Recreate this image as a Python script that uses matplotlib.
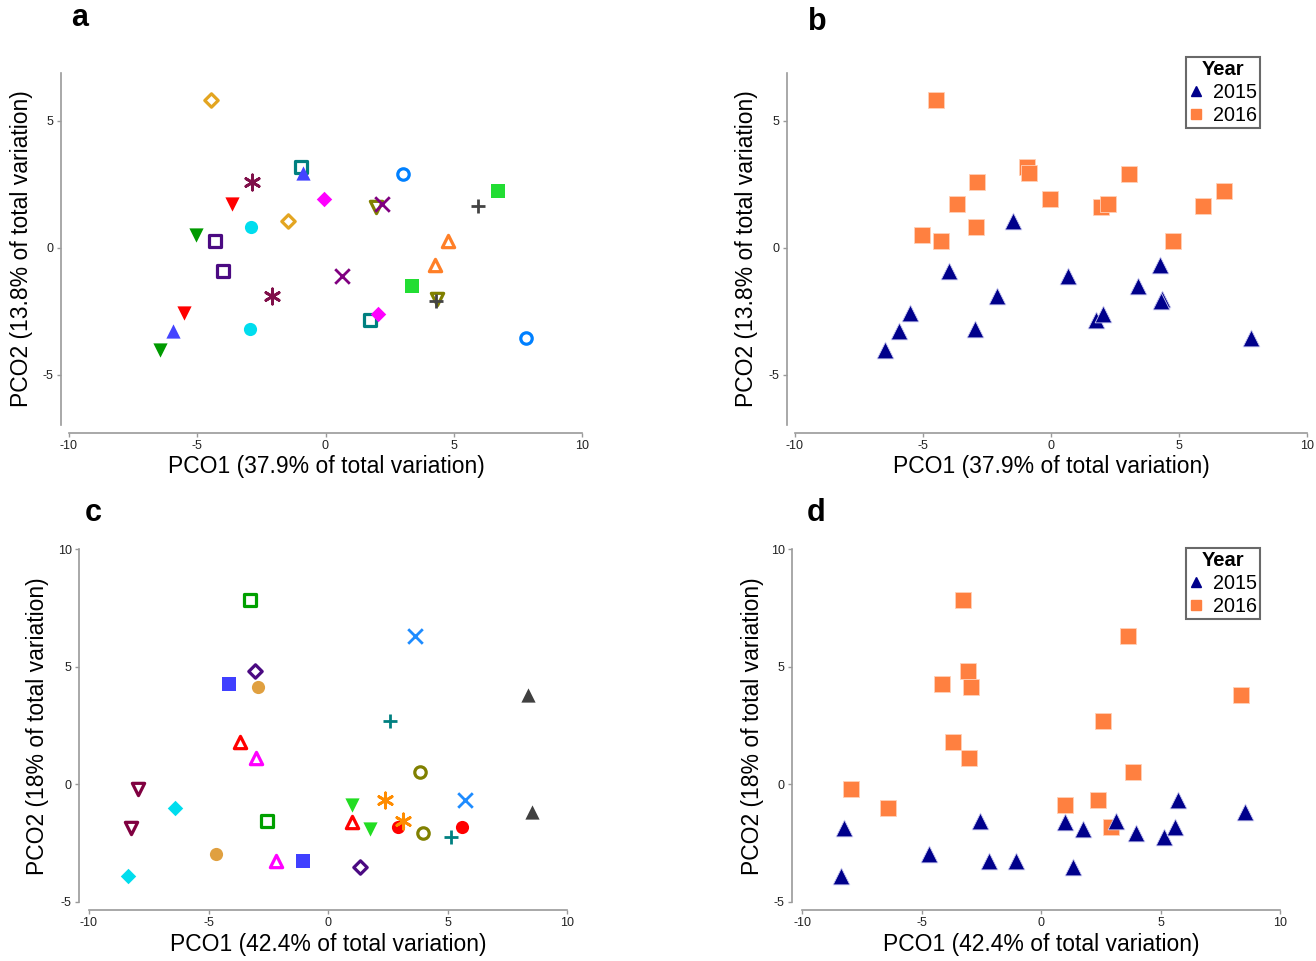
import matplotlib
matplotlib.use("Agg")
import matplotlib.pyplot as plt
from matplotlib.lines import Line2D

plt.rcParams['font.family'] = ['Liberation Sans', 'DejaVu Sans']
plt.rcParams['axes.unicode_minus'] = False

# ---------------- data ----------------
# Panels a/b (PCO1 37.9%, PCO2 13.8%) : 15 sites, 2016 and 2015 positions
a_x_2016 = [-4.48, -0.94, -0.86, -2.88, -3.66, -2.92, -5.03, -4.29, -0.04, 1.95, 2.22, 3.04, 5.93, 6.74, 4.76]
a_y_2016 = [5.81, 3.20, 2.96, 2.61, 1.74, 0.83, 0.51, 0.28, 1.94, 1.62, 1.74, 2.92, 1.66, 2.25, 0.28]
a_x_2015 = [-1.48, 1.75, -5.93, -2.10, -5.50, -2.96, -6.47, -3.98, 2.03, 4.33, 0.66, 7.80, 4.29, 3.39, 4.25]
a_y_2015 = [1.07, -2.85, -3.28, -1.90, -2.57, -3.20, -4.03, -0.91, -2.60, -2.00, -1.10, -3.56, -2.10, -1.50, -0.67]

# Panels c/d (PCO1 42.4%, PCO2 18%) : 15 sites, 2016 and 2015 positions
c_x_2016 = [-3.26, 3.64, -3.05, -4.14, -2.93, 8.37, 2.59, -3.68, -3.01, 3.85, -7.95, -6.40, 1.00, 2.38, 2.93]
c_y_2016 = [7.84, 6.31, 4.83, 4.28, 4.15, 3.81, 2.71, 1.78, 1.14, 0.51, -0.21, -1.02, -0.89, -0.68, -1.82]
c_x_2015 = [-2.55, 5.73, 1.34, -1.05, -4.69, 8.54, 5.15, 1.00, -2.18, 3.97, -8.24, -8.37, 1.76, 3.14, 5.60]
c_y_2015 = [-1.57, -0.68, -3.52, -3.26, -2.97, -1.19, -2.25, -1.61, -3.26, -2.08, -1.86, -3.90, -1.90, -1.57, -1.82]

years = ["2015", "2016"]
xlabel_ab = "PCO1 (37.9% of total variation)"
ylabel_ab = "PCO2 (13.8% of total variation)"
xlabel_cd = "PCO1 (42.4% of total variation)"
ylabel_cd = "PCO2 (18% of total variation)"
xticks = [-10, -5, 0, 5, 10]
yticks_ab = [-5, 0, 5]
yticks_cd = [-5, 0, 5, 10]

# ---------------- styles ----------------
# (marker, color, filled)
style_a = [
    ("D", "#E3A521", False), ("s", "#008080", False), ("^", "#4444FF", True),
    ((6, 2, 0), "#80104A", True), ("v", "#FF0000", True), ("o", "#00DDEE", True),
    ("v", "#009A00", True), ("s", "#4B0A82", False), ("D", "#FF00FF", True),
    ("v", "#808000", False), ("x", "#800080", True), ("o", "#0080FF", False),
    ("+", "#444444", True), ("s", "#22DD33", True), ("^", "#FF7F27", False),
]
style_c = [
    ("s", "#00A000", False), ("x", "#1E8CFF", True), ("D", "#4B0A82", False),
    ("s", "#4040FF", True), ("o", "#E0A040", True), ("^", "#404040", True),
    ("+", "#008080", True), ("^", "#FF0000", False), ("^", "#FF00FF", False),
    ("o", "#808000", False), ("v", "#800040", False), ("D", "#00DDEE", True),
    ("v", "#22DD22", True), ((6, 2, 0), "#FF8C00", True), ("o", "#FF0000", True),
]
navy = "#00008B"
orange = "#FF8040"

W, H = 1316, 961
fig = plt.figure(figsize=(W / 100, H / 100), dpi=100)


def px_axes(left, right, top, bottom):
    return fig.add_axes([left / W, 1 - bottom / H, (right - left) / W, (bottom - top) / H])


def style_axes(ax, ylim, yticks, left_off, bottom_off):
    ax.set_xlim(-10, 10)
    ax.set_ylim(*ylim)
    ax.set_xticks(xticks)
    ax.set_yticks(yticks)
    for s in ("top", "right"):
        ax.spines[s].set_visible(False)
    ax.spines["left"].set_position(("outward", left_off))
    ax.spines["bottom"].set_position(("outward", bottom_off))
    for s in ("left", "bottom"):
        ax.spines[s].set_color("#9a9a9a")
        ax.spines[s].set_linewidth(1.2)
    ax.tick_params(direction="out", length=3, width=1, color="#9a9a9a",
                   labelsize=9, labelcolor="#222222", pad=2)
    ax.patch.set_alpha(0)


def sizes(marker, filled):
    if marker == "D":
        return 62
    if marker in ("x", "+"):
        return 110
    if isinstance(marker, tuple):
        return 120
    if marker in ("^", "v"):
        return 105
    return 90


def draw_sites(ax, xs_list, ys_list, styles):
    for xs, ys in zip(xs_list, ys_list):
        for x, y, (m, c, filled) in zip(xs, ys, styles):
            s = sizes(m, filled)
            if m in ("x", "+") or isinstance(m, tuple):
                ax.scatter([x], [y], marker=m, s=s, color=c, linewidths=2.0, zorder=3)
            elif filled:
                ax.scatter([x], [y], marker=m, s=s, color=c, linewidths=0, zorder=3)
            else:
                ax.scatter([x], [y], marker=m, s=s * 0.75, facecolors="white",
                           edgecolors=c, linewidths=2.3, zorder=3)


def draw_years(ax, x15, y15, x16, y16):
    ax.scatter(x16, y16, marker="s", s=120, color=orange, edgecolors="#ffd0b8",
               linewidths=0.6, zorder=3)
    ax.scatter(x15, y15, marker="^", s=145, color=navy, edgecolors="#c8c8f0",
               linewidths=0.6, zorder=4)


def add_legend(ax, anchor):
    handles = [
        Line2D([], [], marker="^", color=navy, linestyle="none", markersize=7),
        Line2D([], [], marker="s", color=orange, linestyle="none", markersize=6.5),
    ]
    leg = ax.legend(handles, years, title="Year", loc="upper right",
                    bbox_to_anchor=anchor, bbox_transform=fig.transFigure,
                    frameon=True, fancybox=False, fontsize=14.2,
                    title_fontproperties={"weight": "bold", "size": 14.5},
                    handlelength=0.7, handletextpad=0.5, borderpad=0.15,
                    labelspacing=0.2, borderaxespad=0)
    leg.get_frame().set_edgecolor("#444444")
    leg.get_frame().set_linewidth(1.5)


# Panel a
ax_a = px_axes(69, 582, 73, 425)
style_axes(ax_a, (-6.97, 6.89), yticks_ab, 6, 6)
draw_sites(ax_a, [a_x_2016, a_x_2015], [a_y_2016, a_y_2015], style_a)

# Panel b
ax_b = px_axes(795, 1307, 73, 425)
style_axes(ax_b, (-6.97, 6.89), yticks_ab, 6, 6)
draw_years(ax_b, a_x_2015, a_y_2015, a_x_2016, a_y_2016)
add_legend(ax_b, (1260 / W, 1 - 57 / H))

# Panel c
ax_c = px_axes(89, 567, 549, 902)
style_axes(ax_c, (-5, 10), yticks_cd, 7.5, 6)
draw_sites(ax_c, [c_x_2016, c_x_2015], [c_y_2016, c_y_2015], style_c)

# Panel d
ax_d = px_axes(802, 1280, 549, 902)
style_axes(ax_d, (-5, 10), yticks_cd, 7.5, 6)
draw_years(ax_d, c_x_2015, c_y_2015, c_x_2016, c_y_2016)
add_legend(ax_d, (1260 / W, 1 - 548 / H))

# axis labels
lab_fs = 16.5
for (xc, yc, txt) in [(326, 467, xlabel_ab), (1051, 467, xlabel_ab),
                      (328, 945, xlabel_cd), (1041, 945, xlabel_cd)]:
    fig.text(xc / W, 1 - yc / H, txt, ha="center", va="center", fontsize=lab_fs)
for (xc, yc, txt) in [(22, 249, ylabel_ab), (747, 249, ylabel_ab),
                      (38, 726, ylabel_cd), (753, 726, ylabel_cd)]:
    fig.text(xc / W, 1 - yc / H, txt, ha="center", va="center", rotation=90, fontsize=lab_fs)

# panel letters
for (xc, yc, txt) in [(80, 18, "a"), (817, 22, "b"), (93, 513, "c"), (816, 513, "d")]:
    fig.text(xc / W, 1 - yc / H, txt, ha="center", va="center", fontsize=22, fontweight="bold")

fig.savefig("out.png", dpi=100)
